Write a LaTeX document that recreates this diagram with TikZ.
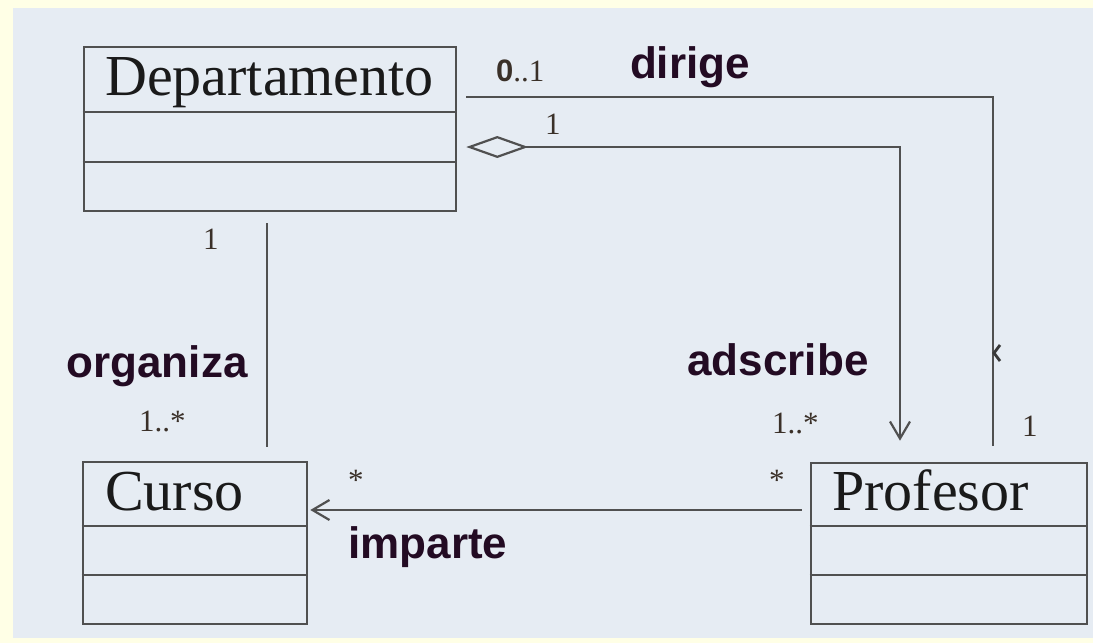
\documentclass[tikz,border=0pt]{standalone}
\usepackage{fontspec}
\setmainfont{Liberation Serif}
\newfontfamily\labelsans{Liberation Sans}
\usetikzlibrary{arrows.meta}
\definecolor{pagebg}{HTML}{FFFFE6}
\definecolor{panelbg}{HTML}{E6ECF3}
\definecolor{edge}{HTML}{505050}
\definecolor{ink}{HTML}{1A1A1A}
\definecolor{roleink}{HTML}{230B23}
\definecolor{multink}{HTML}{3A3028}

\begin{document}
\begin{tikzpicture}[x=1pt,y=-1pt,
  classbox/.style={draw=edge, line width=2.6pt, inner sep=0pt},
  divider/.style={draw=edge, line width=2.4pt},
  classname/.style={anchor=base west, inner sep=0pt, text=ink, font=\fontsize{58}{58}\selectfont},
  conn/.style={draw=edge, line width=2.2pt},
  role/.style={anchor=base, inner sep=0pt, text=roleink, font=\labelsans\bfseries\fontsize{44}{44}\selectfont},
  mult/.style={anchor=base west, inner sep=0pt, text=multink, font=\fontsize{31}{31}\selectfont},
  navhead/.style={-{Straight Barb[length=17pt,width=20pt,line width=2.2pt]}}
]
% page and panel
\fill[pagebg] (0,0) rectangle (1093,643);
\fill[panelbg] (13,8) rectangle (1093,638);
\useasboundingbox (0,0) rectangle (1093,643);

% classes
\node[classbox, minimum width=372pt, minimum height=164pt] (dep) at (270,129) {};
\draw[divider] (dep.west |- 0,112) -- (dep.east |- 0,112);
\draw[divider] (dep.west |- 0,162) -- (dep.east |- 0,162);
\node[classname] (depname) at (105,95) {Departamento};

\node[classbox, minimum width=224pt, minimum height=162pt] (curso) at (195,543) {};
\draw[divider] (curso.west |- 0,526) -- (curso.east |- 0,526);
\draw[divider] (curso.west |- 0,575) -- (curso.east |- 0,575);
\node[classname] (cursoname) at (105,510) {Curso};

\node[classbox, minimum width=276pt, minimum height=161pt] (prof) at (949,543.5) {};
\draw[divider] (prof.west |- 0,526) -- (prof.east |- 0,526);
\draw[divider] (prof.west |- 0,575) -- (prof.east |- 0,575);
\node[classname] (profname) at (832,510) {Profesor};

% dirige
\draw[conn] ([shift={(9,-32)}]dep.east) -| ([shift={(44,-16)}]prof.north);
\coordinate (dirmark) at (994,353);
\draw[draw=edge!70!black, line width=2.8pt] ([shift={(6,-8)}]dirmark) -- (dirmark) -- ([shift={(6,8)}]dirmark);
\node[mult] (m01) at (496,81) {{\labelsans\bfseries 0}..1};
\node[role] (ldirige) at (690,78) {dirige};
\node[mult] (m1prof) at (1022,436) {1};

% adscribe (aggregation)
\draw[conn, {Diamond[open,length=62pt,width=22pt,line width=2.2pt]}-{Straight Barb[length=17pt,width=20pt,line width=2.2pt]}]
  ([shift={(9,18)}]dep.east) -| ([shift={(-49,-21)}]prof.north);
\node[mult] (m1dep) at (545,134) {1};
\node[role] (ladscribe) at (778,375) {adscribe};
\node[mult] (m1nprof) at (772,433) {1..*};

% organiza
\draw[conn] ([shift={(-3,11)}]dep.south) -- ([shift={(72,-14)}]curso.north);
\node[mult] (m1org) at (203,249) {1};
\node[role] (lorganiza) at (157,377) {organiza};
\node[mult] (m1ncur) at (139,431) {1..*};

% imparte
\draw[conn, navhead] ([shift={(-8,-33.5)}]prof.west) -- ([shift={(2,-33)}]curso.east);
\node[mult] (mstcur) at (348,490) {*};
\node[mult] (mstprof) at (769,490) {*};
\node[role] (limparte) at (428,558) {imparte};
\end{tikzpicture}
\end{document}
